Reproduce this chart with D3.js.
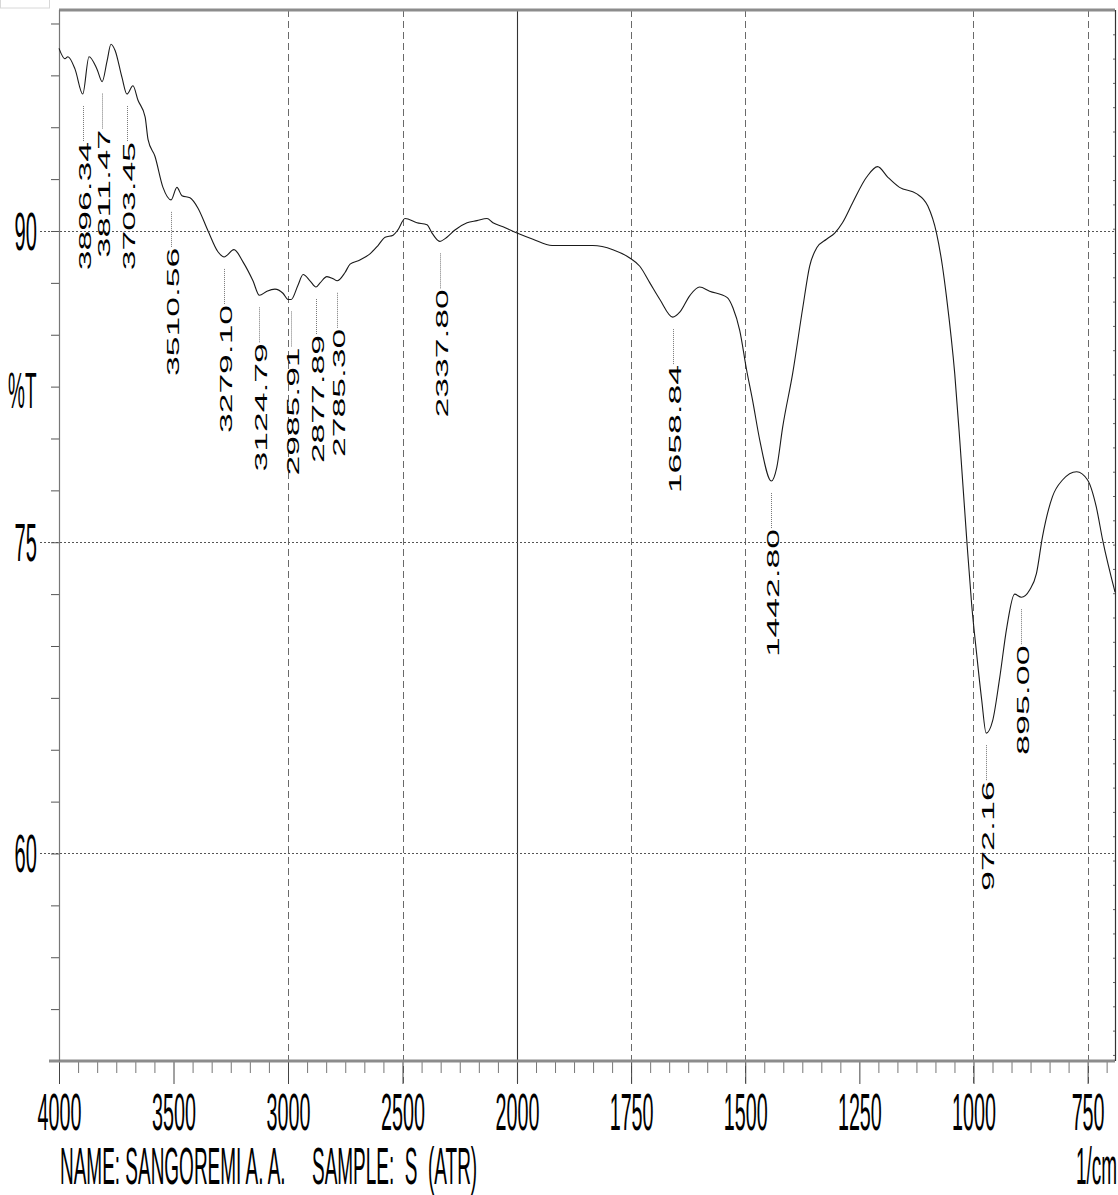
<!DOCTYPE html>
<html>
<head>
<meta charset="utf-8">
<script src="https://cdn.jsdelivr.net/npm/d3@7"></script>
<style>
  html, body { margin: 0; padding: 0; background: #fff; }
  svg { display: block; }
</style>
</head>
<body>
<svg id="chart" width="1118" height="1195"></svg>
<script>
// IR spectrum: [wavenumber (1/cm), %T]
const spectrum = [
  [4000, 98.8], [3974, 98.3], [3961, 98.4], [3930, 97.8], [3896.34, 96.6],
  [3869, 98.4], [3834, 97.8], [3811.47, 97.2], [3790, 98.2], [3773, 99.0],
  [3755, 98.7], [3725, 97.4], [3703.45, 96.6], [3677, 97.0], [3655, 96.3],
  [3624, 95.5], [3611, 94.4], [3581, 93.6], [3546, 92.1], [3510.56, 91.5],
  [3485, 92.1], [3463, 91.7], [3428, 91.6], [3393, 91.1], [3349, 90.0],
  [3306, 89.0], [3279.10, 88.75], [3236, 89.1], [3196, 88.5], [3153, 87.6],
  [3124.79, 86.9], [3092, 87.1], [3057, 87.2], [3022, 87.0], [3000, 86.7],
  [2985.91, 86.7], [2956, 87.4], [2934, 87.9], [2904, 87.6], [2877.89, 87.3],
  [2860, 87.5], [2830, 87.8], [2803, 87.7], [2785.30, 87.6], [2751, 88.0],
  [2729, 88.4], [2686, 88.6], [2642, 88.9], [2607, 89.3], [2576, 89.7],
  [2541, 89.8], [2520, 90.05], [2489, 90.6], [2437, 90.4], [2393, 90.3],
  [2371, 89.9], [2337.80, 89.5], [2306, 89.7], [2271, 90.05], [2218, 90.4],
  [2175, 90.5], [2131, 90.6], [2105, 90.4], [2061, 90.2], [2000, 89.9],
  [1965, 89.6], [1923, 89.3], [1834, 89.3], [1790, 89.1], [1753, 88.7],
  [1731, 88.3], [1709, 87.5], [1687, 86.7], [1658.84, 85.85], [1643, 86.1],
  [1621, 86.9], [1600, 87.3], [1578, 87.1], [1540, 86.8], [1527, 86.3],
  [1512, 85.2], [1497, 83.3], [1484, 81.85], [1468, 79.9], [1442.80, 77.95],
  [1431, 78.6], [1418, 80.55], [1396, 83.15], [1374, 86.3], [1359, 88.3],
  [1343, 89.2], [1322, 89.6], [1304, 89.9], [1287, 90.4], [1265, 91.35],
  [1234, 92.6], [1210, 93.1], [1188, 92.6], [1162, 92.1], [1125, 91.8],
  [1100, 91.2], [1081, 89.9], [1068, 88.3], [1059, 86.8], [1041, 83.1],
  [1030, 79.9], [1015, 75.2], [1004, 72.0], [993, 69.6], [982, 67.4],
  [972.16, 65.8], [958, 66.4], [943, 68.4], [927, 70.9], [910, 72.5],
  [895.00, 72.35], [877, 72.7], [862, 73.5], [849, 75.25], [827, 77.2],
  [805, 78.0], [774, 78.4], [750, 78.0], [731, 76.7], [717, 75.1], [690, 72.6]
];

// Picked peaks (wavenumbers printed beside the trace)
const peakLabels = ["3896.34", "3811.47", "3703.45", "3510.56", "3279.10", "3124.79",
  "2985.91", "2877.89", "2785.30", "2337.80", "1658.84", "1442.80", "972.16", "895.00"];

const xTickValues = [4000, 3500, 3000, 2500, 2000, 1750, 1500, 1250, 1000, 750];
const xGridValues = [3000, 2500, 1750, 1500, 1000, 750];
const yTickValues = [60, 75, 90];
const yLabel = "%T";
const xUnitLabel = "1/cm";
const footerName = "NAME: SANGOREMI A. A.";
const footerSample = "SAMPLE:\u00A0\u00A0S\u00A0\u00A0(ATR)";

(function draw() {
  const svg = d3.select("#chart");
  const pL = 59, pR = 1115, pT = 10, pB = 1061;

  // Wavenumber axis changes scale at 2000 1/cm (doubled resolution below)
  const x = d3.scaleLinear().domain([4000, 2000, 690]).range([pL, 517, pR]);
  const y = d3.scaleLinear().domain([50, 100.65]).range([pB, pT]);
  // fine division marks along the right frame
  const yFrame = d3.scaleLinear().domain([0, 43.25]).range([pT, pB]);

  const font = "'Liberation Sans', Arial, sans-serif";
  const squeeze = 0.38;
  const footSqueeze = 0.365;

  // small frame at the page corner
  svg.append("rect").attr("x", 0.5).attr("y", -2).attr("width", 49).attr("height", 10)
    .attr("fill", "none").attr("stroke", "#d8d8d8");

  // vertical dashed grid
  svg.append("g").selectAll("line").data(xGridValues).join("line")
    .attr("x1", d => Math.round(x(d)) + 0.5).attr("x2", d => Math.round(x(d)) + 0.5)
    .attr("y1", pT).attr("y2", pB + 22)
    .attr("stroke", "#6a6a6a").attr("stroke-width", 1).attr("stroke-dasharray", "7,4");

  // solid line at the scale change
  svg.append("line").attr("x1", Math.round(x(2000)) + 0.5).attr("x2", Math.round(x(2000)) + 0.5)
    .attr("y1", pT).attr("y2", pB + 22).attr("stroke", "#333").attr("stroke-width", 1.1);

  // horizontal dotted grid
  svg.append("g").selectAll("line").data(yTickValues).join("line")
    .attr("x1", 40).attr("x2", pR)
    .attr("y1", d => Math.round(y(d)) + 0.5).attr("y2", d => Math.round(y(d)) + 0.5)
    .attr("stroke", "#555").attr("stroke-width", 1).attr("stroke-dasharray", "2,2");

  // minor ticks along the left axis every 2.5 %T
  const yMinor = d3.range(50, 100.01, 2.5);
  svg.append("g").attr("transform", `translate(${pL},0)`)
    .call(d3.axisLeft(y).tickValues(yMinor).tickSize(8).tickFormat(""))
    .call(g => g.select(".domain").remove())
    .selectAll("line").attr("stroke", "#555");

  // small marks on the right frame
  svg.append("g").attr("transform", `translate(${pR + 1},0)`)
    .call(d3.axisLeft(yFrame).tickValues(d3.range(1, 44)).tickSize(3).tickFormat(""))
    .call(g => g.select(".domain").remove())
    .selectAll("line").attr("stroke", "#666");

  // minor ticks along the bottom: six per labelled interval
  const xMinor = [];
  for (let i = 0; i < xTickValues.length - 1; i++) {
    const a = xTickValues[i], b = xTickValues[i + 1];
    for (let k = 1; k < 6; k++) xMinor.push(a + (b - a) * k / 6);
  }
  xMinor.push(750 - 250 / 6);
  svg.append("g").attr("transform", `translate(0,${pB})`)
    .call(d3.axisBottom(x).tickValues(xMinor).tickSize(12).tickFormat(""))
    .call(g => g.select(".domain").remove())
    .selectAll("line").attr("stroke", "#777");

  // labelled ticks
  const xAxisG = svg.append("g").attr("transform", `translate(0,${pB})`)
    .call(d3.axisBottom(x).tickValues(xTickValues).tickSize(23).tickFormat(d3.format("d")));
  xAxisG.select(".domain").remove();
  xAxisG.selectAll("line").attr("stroke", "#444");
  xAxisG.selectAll("text")
    .attr("y", null).attr("dy", null)
    .attr("transform", `translate(0,69) scale(${squeeze},1)`)
    .attr("font-family", font).attr("font-size", 52)
    .attr("fill", "#000").attr("text-anchor", "middle");

  // y labels
  svg.append("g").selectAll("text").data(yTickValues).join("text")
    .attr("transform", d => `translate(37,${y(d) + 19}) scale(${squeeze},1)`)
    .attr("text-anchor", "end").attr("font-family", font).attr("font-size", 53)
    .text(d => d);

  svg.append("text")
    .attr("transform", `translate(8,408) scale(${squeeze},1)`)
    .attr("font-family", font).attr("font-size", 50)
    .text(yLabel);

  // frame
  svg.append("line").attr("x1", pL).attr("x2", pR).attr("y1", pT).attr("y2", pT)
    .attr("stroke", "#8c8c8c").attr("stroke-width", 3);
  svg.append("line").attr("x1", pL - 10).attr("x2", pR).attr("y1", pB).attr("y2", pB)
    .attr("stroke", "#8c8c8c").attr("stroke-width", 3);
  svg.append("line").attr("x1", pL + 0.5).attr("x2", pL + 0.5).attr("y1", pT).attr("y2", pB)
    .attr("stroke", "#777").attr("stroke-width", 1.2);
  svg.append("line").attr("x1", pR + 0.5).attr("x2", pR + 0.5).attr("y1", pT).attr("y2", pB)
    .attr("stroke", "#333").attr("stroke-width", 1.2);

  // spectrum trace
  const line = d3.line().x(d => x(d[0])).y(d => y(d[1])).curve(d3.curveMonotoneX);
  svg.append("path").datum(spectrum)
    .attr("fill", "none").attr("stroke", "#1a1a1a").attr("stroke-width", 1.1)
    .attr("d", line);

  // peak annotations: leader line below each trough, then the rotated value
  const peaks = peakLabels.map(s => {
    const wn = +s;
    const pt = spectrum.find(p => Math.abs(p[0] - wn) < 0.005);
    return { wn, t: pt[1], label: s };
  });
  const charLen = 18.3;
  const ann = svg.append("g");
  peaks.forEach(p => {
    const px = Math.round(x(p.wn)) + 0.5;
    const py = y(p.t);
    ann.append("line").attr("x1", px).attr("x2", px)
      .attr("y1", py + 12).attr("y2", py + 47)
      .attr("stroke", "#777").attr("stroke-width", 1).attr("stroke-dasharray", "1,1");
    ann.append("text")
      .attr("transform", `translate(${px + 2},${py + 48}) rotate(-90)`)
      .attr("text-anchor", "end").attr("dominant-baseline", "central")
      .attr("font-family", font).attr("font-size", 17)
      .attr("textLength", p.label.length * charLen).attr("lengthAdjust", "spacingAndGlyphs")
      .text(p.label);
  });

  // footer
  const foot = svg.append("g").attr("font-family", font).attr("font-size", 52);
  foot.append("text").attr("transform", `translate(60,1184) scale(${footSqueeze},1)`)
    .text(footerName);
  foot.append("text").attr("transform", `translate(312,1184) scale(${footSqueeze},1)`)
    .text(footerSample);
  foot.append("text").attr("transform", `translate(1117,1184) scale(${footSqueeze},1)`)
    .attr("text-anchor", "end").text(xUnitLabel);
})();
</script>
</body>
</html>
